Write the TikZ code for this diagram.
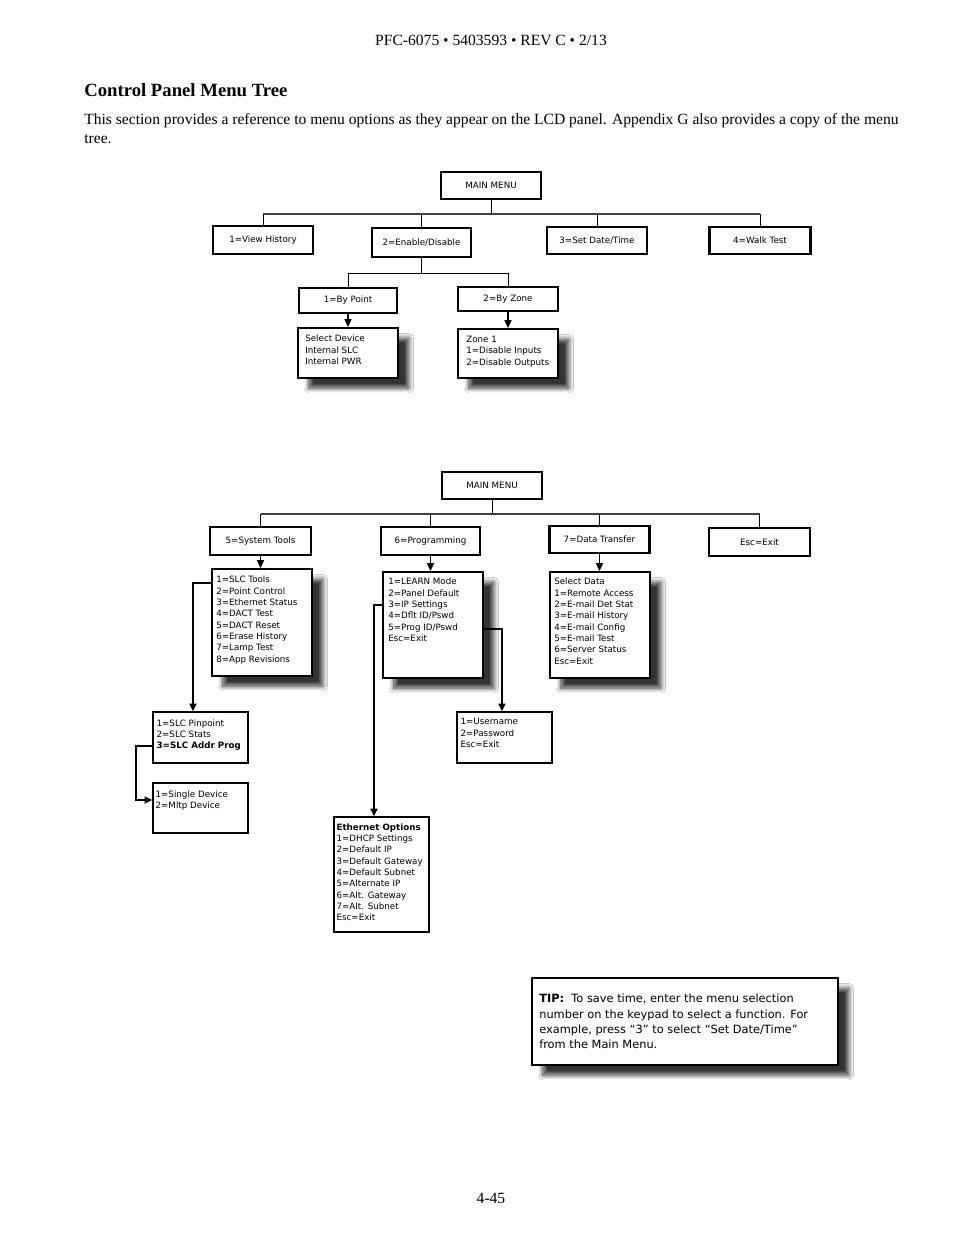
\documentclass[tikz,border=0pt]{standalone}
\usepackage{fontspec}
\setmainfont{Liberation Serif}
\newfontfamily\menufont{DejaVu Sans}
\usetikzlibrary{arrows.meta,shadows.blur}
\newcommand{\unitpx}{0.6415pt}

\begin{document}
\begin{tikzpicture}[x=0.6415pt,y=-0.6415pt,
  wh/.style 2 args={minimum width=#1*\unitpx,minimum height=#2*\unitpx},
  menu/.style={draw,line width=1.3pt,fill=white,inner sep=0pt,font=\menufont\fontsize{5.6}{7.2}\selectfont},
  thinmenu/.style={menu,line width=0.9pt},
  shadowed/.style={blur shadow={shadow xshift=7pt,shadow yshift=-6.5pt,shadow blur radius=3pt,shadow blur steps=12,shadow opacity=80}},
  lines/.style={anchor=north west,align=left,inner sep=0pt,font=\menufont\fontsize{5.6}{7.25}\selectfont},
  link/.style={line width=0.6pt},
  bus/.style={line width=1.3pt,black!75},
  arr/.style={line width=1pt,-{Triangle[width=4.5pt,length=5pt]}}]
  \fill[white] (0,0) rectangle (954,1235);
  \useasboundingbox (0,0) rectangle (954,1235);

  % page text
  \node[anchor=base,font=\fontsize{10}{12}\selectfont] (header) at (491,45) {PFC-6075 • 5403593 • REV C • 2/13};
  \node[anchor=base west,inner sep=0pt,font=\bfseries\fontsize{12}{14}\selectfont] (title) at (84,96) {Control Panel Menu Tree};
  \node[anchor=north west,align=left,inner sep=0pt,font=\fontsize{10}{12.2}\selectfont] (intro) at (84,113.4)
    {This section provides a reference to menu options as they appear on the LCD panel. Appendix G also provides a copy of the menu\\tree.};
  \node[anchor=base,font=\fontsize{10}{12}\selectfont] (pagenum) at (491,1203) {4-45};

  % first tree
  \node[menu,wh={100}{27}] (main1) at (491,185.5) {MAIN MENU};
  \node[menu,wh={100}{28}] (view) at (263,240) {1=View History};
  \node[menu,wh={99}{29}] (enable) at (421.5,242.5) {2=Enable/Disable};
  \node[menu,wh={100}{27}] (setdt) at (597,240.5) {3=Set Date/Time};
  \node[menu,wh={101}{27}] (walk) at (760,240.5) {4=Walk Test};
  \coordinate (bus1) at (491,214);
  \draw[link] (main1) -- (bus1);
  \draw[bus] (bus1 -| view) -- (bus1 -| walk);
  \foreach \n in {view,enable,setdt,walk}
    \draw[link] (bus1 -| \n) -- (\n.north);

  \node[menu,wh={98}{25}] (bypoint) at (348,300.5) {1=By Point};
  \node[menu,wh={100}{24}] (byzone) at (508,299) {2=By Zone};
  \coordinate (bus2) at (421.5,273);
  \draw[link] (enable) -- (bus2);
  \draw[link] (bus2 -| bypoint) -- (bus2 -| byzone);
  \draw[link] (bus2 -| bypoint) -- (bypoint.north);
  \draw[link] (bus2 -| byzone) -- (byzone.north);

  \node[menu,shadowed,wh={100}{50}] (seldev) at (348,353) {};
  \node[lines] (seldev-t) at ([shift={(8,8)}]seldev.north west) {Select Device\\Internal SLC\\Internal PWR};
  \node[menu,shadowed,wh={100}{49}] (zone) at (508,353.5) {};
  \node[lines] (zone-t) at ([shift={(9,8)}]zone.north west) {Zone 1\\1=Disable Inputs\\2=Disable Outputs};
  \draw[arr] (bypoint) -- (seldev);
  \draw[arr] (byzone) -- (zone);

  % second tree
  \node[menu,wh={100}{27}] (main2) at (492,485.5) {MAIN MENU};
  \node[menu,wh={101}{28}] (tools) at (260.5,541) {5=System Tools};
  \node[menu,wh={99}{28}] (prog) at (430.5,541) {6=Programming};
  \node[menu,wh={100}{27}] (data) at (599.5,539.5) {7=Data Transfer};
  \node[menu,wh={101}{28}] (escx) at (759.5,542) {Esc=Exit};
  \coordinate (bus3) at (492,514);
  \draw[link] (main2) -- (bus3);
  \draw[bus] (bus3 -| tools) -- (bus3 -| escx);
  \foreach \n in {tools,prog,data,escx}
    \draw[link] (bus3 -| \n) -- (\n.north);

  \node[menu,shadowed,wh={100}{107}] (slctools) at (262,622.5) {};
  \node[lines] (slctools-t) at ([shift={(5,8)}]slctools.north west)
    {1=SLC Tools\\2=Point Control\\3=Ethernet Status\\4=DACT Test\\5=DACT Reset\\6=Erase History\\7=Lamp Test\\8=App Revisions};
  \node[menu,shadowed,wh={100}{106}] (progmenu) at (433,625) {};
  \node[lines] (progmenu-t) at ([shift={(6,7)}]progmenu.north west)
    {1=LEARN Mode\\2=Panel Default\\3=IP Settings\\4=Dflt ID/Pswd\\5=Prog ID/Pswd\\Esc=Exit};
  \node[menu,shadowed,wh={100}{106}] (datamenu) at (600,625) {};
  \node[lines] (datamenu-t) at ([shift={(5,7)}]datamenu.north west)
    {Select Data\\1=Remote Access\\2=E-mail Det Stat\\3=E-mail History\\4=E-mail Config\\5=E-mail Test\\6=Server Status\\Esc=Exit};
  \draw[arr] (tools) -- (tools |- slctools.north);
  \draw[arr] (prog) -- (prog |- progmenu.north);
  \draw[arr] (data) -- (data |- datamenu.north);

  \node[thinmenu,wh={95}{51}] (pinpoint) at (200.5,737.5) {};
  \node[lines] (pinpoint-t) at ([shift={(4,8)}]pinpoint.north west)
    {1=SLC Pinpoint\\2=SLC Stats\\\textbf{3=SLC Addr Prog}};
  \node[thinmenu,wh={95}{50}] (single) at (200.5,808) {};
  \node[lines] (single-t) at ([shift={(3,8)}]single.north west) {1=Single Device\\2=Mltp Device};
  \node[thinmenu,wh={95}{51}] (user) at (504.5,737.5) {};
  \node[lines] (user-t) at ([shift={(4,7)}]user.north west) {1=Username\\2=Password\\Esc=Exit};
  \node[thinmenu,wh={95}{115}] (eth) at (381.5,874.5) {};
  \node[lines] (eth-t) at ([shift={(3,7)}]eth.north west)
    {\textbf{Ethernet Options}\\1=DHCP Settings\\2=Default IP\\3=Default Gateway\\4=Default Subnet\\5=Alternate IP\\6=Alt. Gateway\\7=Alt. Subnet\\Esc=Exit};

  \coordinate (k1) at (193,583);
  \draw[arr] (slctools.west |- k1) -| (k1 |- pinpoint.north);
  \coordinate (k2) at (136,746);
  \coordinate (k3) at (136,800);
  \draw[arr] (pinpoint.west |- k2) -| (k3) -- (single.west |- k3);
  \coordinate (k4) at (374,605);
  \draw[arr] (progmenu.west |- k4) -| (k4 |- eth.north);
  \coordinate (k5) at (502,629);
  \draw[arr] (progmenu.east |- k5) -| (k5 |- user.north);

  % tip
  \node[menu,shadowed,wh={306}{87}] (tip) at (685,1021.5) {};
  \node[lines,font=\menufont\fontsize{7.3}{9.75}\selectfont] (tip-t) at ([shift={(8,17)}]tip.north west)
    {\textbf{TIP:}\ \ To save time, enter the menu selection\\number on the keypad to select a function. For\\example, press “3” to select “Set Date/Time”\\from the Main Menu.};
\end{tikzpicture}
\end{document}
